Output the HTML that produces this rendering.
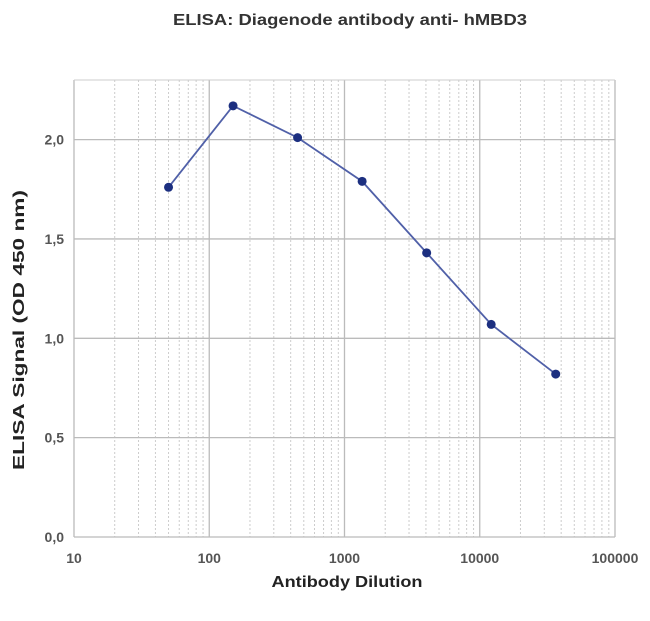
<!DOCTYPE html>
<html><head><meta charset="utf-8"><style>
body{margin:0;background:#fff;font-family:"Liberation Sans",sans-serif}
</style></head><body>
<svg id="c" width="650" height="616" xmlns="http://www.w3.org/2000/svg">
<text x="350" y="25" text-anchor="middle" font-size="16" font-weight="bold" fill="#333" textLength="354" lengthAdjust="spacingAndGlyphs">ELISA: Diagenode antibody anti- hMBD3</text>
<text x="347" y="587" text-anchor="middle" font-size="16" font-weight="bold" fill="#222" textLength="151" lengthAdjust="spacingAndGlyphs">Antibody Dilution</text>
<text transform="translate(24,330) rotate(-90)" text-anchor="middle" font-size="16" font-weight="bold" fill="#222" textLength="280" lengthAdjust="spacingAndGlyphs">ELISA Signal (OD 450 nm)</text>
<g id="grid"></g><g id="ax"></g><g id="ser"></g>
</svg>
<script>
const dilutions=[50,150,450,1350,4050,12150,36450];
const signals=[1.76,2.17,2.01,1.79,1.43,1.07,0.82];
const yTicks=[0,0.5,1,1.5,2];
const yTickLabels=["0,0","0,5","1,0","1,5","2,0"];
const xTicks=[10,100,1000,10000,100000];
const xTickLabels=["10","100","1000","10000","100000"];
const L=74,R=615,T=80,B=537,yMax=2.3;
const x=v=>L+(Math.log10(v)-1)/4*(R-L);
const y=v=>B-v/yMax*(B-T);
const NS="http://www.w3.org/2000/svg";
function mk(p,t,a){const e=document.createElementNS(NS,t);for(const k in a)e.setAttribute(k,a[k]);p.appendChild(e);return e;}
const g=document.getElementById('grid'),ax=document.getElementById('ax'),s=document.getElementById('ser');
for(let d=1;d<=4;d++)for(let m=2;m<=9;m++){const xv=x(m*Math.pow(10,d));
 const l=mk(g,'line',{x1:xv,x2:xv,y1:T,y2:B,stroke:'#ccc','stroke-dasharray':'2,2','stroke-width':1});
 
 }
xTicks.forEach((v,i)=>{const l=mk(g,'line',{x1:x(v),x2:x(v),y1:T,y2:B,stroke:'#bbb','stroke-width':1.3});
 
 
 const t=mk(ax,'text',{x:x(v),y:B+26,'text-anchor':'middle','font-size':14,'font-weight':'bold',fill:'#555'});t.textContent=xTickLabels[i];
 
 });
yTicks.forEach((v,i)=>{const l=mk(g,'line',{x1:L,x2:R,y1:y(v),y2:y(v),stroke:'#bbb','stroke-width':1.3});
 
 
 const t=mk(ax,'text',{x:L-10,y:y(v)+5,'text-anchor':'end','font-size':14,'font-weight':'bold',fill:'#555'});t.textContent=yTickLabels[i];
 
 });
const topBorder=mk(g,'line',{x1:L,x2:R,y1:T,y2:T,stroke:'#ccc'});


const pl=mk(s,'polyline',{points:dilutions.map((d,i)=>x(d)+','+y(signals[i])).join(' '),fill:'none',stroke:'#5060a8','stroke-width':1.8});


dilutions.forEach((d,i)=>{const c=mk(s,'circle',{cx:x(d),cy:y(signals[i]),r:4.5,fill:'#1c2f80'});
 
 });
</script>
</body></html>
